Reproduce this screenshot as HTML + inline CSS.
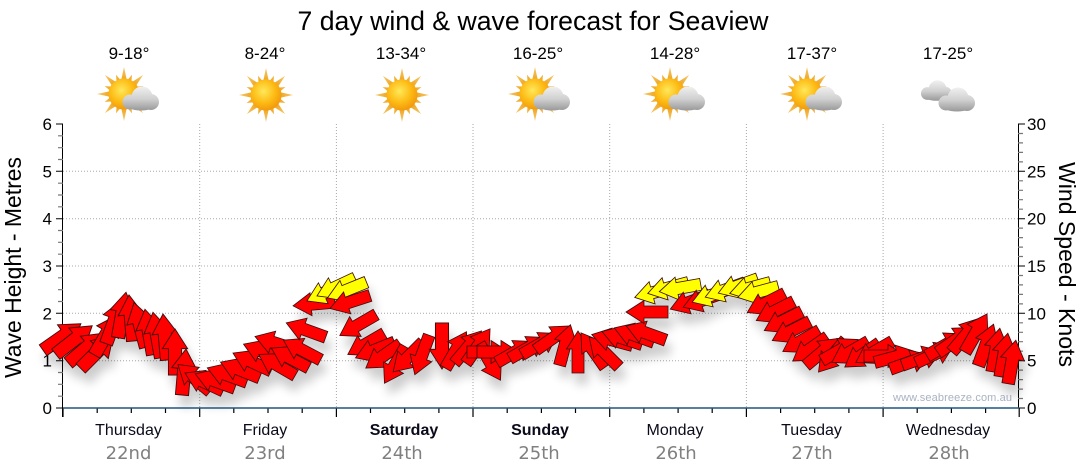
<!DOCTYPE html>
<html><head><meta charset="utf-8"><style>
html,body{margin:0;padding:0;background:#fff;}
svg{display:block;}
</style></head><body>
<svg width="1080" height="475" viewBox="0 0 1080 475" xmlns="http://www.w3.org/2000/svg">
<defs>
<radialGradient id="sg" cx="42%" cy="38%" r="62%"><stop offset="0" stop-color="#ffe85a"/><stop offset="0.6" stop-color="#fdbb14"/><stop offset="1" stop-color="#f29a0e"/></radialGradient>
<linearGradient id="rg" x1="0" y1="-27" x2="0" y2="-12" gradientUnits="userSpaceOnUse"><stop offset="0" stop-color="#f5c86a"/><stop offset="1" stop-color="#eda21a"/></linearGradient>
<linearGradient id="cg" x1="0" y1="-14" x2="0" y2="12" gradientUnits="userSpaceOnUse"><stop offset="0" stop-color="#f4f4f4"/><stop offset="0.55" stop-color="#cfcfcf"/><stop offset="1" stop-color="#969696"/></linearGradient>
<polygon id="rl" points="-3,-13 0,-27 3,-13" fill="url(#rg)"/>
<polygon id="rs" points="-2.5,-13 0,-21 2.5,-13" fill="url(#rg)"/>
<g id="sun">
<use href="#rl"/><use href="#rl" transform="rotate(45)"/><use href="#rl" transform="rotate(90)"/><use href="#rl" transform="rotate(135)"/><use href="#rl" transform="rotate(180)"/><use href="#rl" transform="rotate(225)"/><use href="#rl" transform="rotate(270)"/><use href="#rl" transform="rotate(315)"/>
<use href="#rs" transform="rotate(22.5)"/><use href="#rs" transform="rotate(67.5)"/><use href="#rs" transform="rotate(112.5)"/><use href="#rs" transform="rotate(157.5)"/><use href="#rs" transform="rotate(202.5)"/><use href="#rs" transform="rotate(247.5)"/><use href="#rs" transform="rotate(292.5)"/><use href="#rs" transform="rotate(337.5)"/>
<circle r="15.5" fill="url(#sg)"/>
</g>
<g id="cloud" fill="url(#cg)">
<circle cx="3" cy="-2" r="10.5"/>
<circle cx="-9" cy="3" r="7.5"/>
<circle cx="12" cy="3" r="8"/>
<ellipse cx="2" cy="5" rx="16" ry="6.5"/>
</g>
<polygon id="ar" points="-21,-6 3,-6 3,-11.5 21,0 3,11.5 3,6 -21,6"/>
<filter id="sh" x="-10%" y="-40%" width="120%" height="200%">
<feGaussianBlur in="SourceAlpha" stdDeviation="5"/>
<feOffset dx="4" dy="11" result="b"/>
<feComponentTransfer><feFuncA type="linear" slope="0.2"/></feComponentTransfer>
<feMerge><feMergeNode/><feMergeNode in="SourceGraphic"/></feMerge>
</filter>
</defs>

<!-- Title -->
<text x="533" y="30" font-family="Liberation Sans, sans-serif" font-size="27" text-anchor="middle" textLength="471" lengthAdjust="spacingAndGlyphs" fill="#000">7 day wind &amp; wave forecast for Seaview</text>

<!-- Temps -->
<g font-family="Liberation Sans, sans-serif" font-size="17" text-anchor="middle" fill="#000">
<text x="129" y="59">9-18°</text>
<text x="265" y="59">8-24°</text>
<text x="401" y="59">13-34°</text>
<text x="538" y="59">16-25°</text>
<text x="675" y="59">14-28°</text>
<text x="812" y="59">17-37°</text>
<text x="948" y="59">17-25°</text>
</g>

<!-- Icons -->
<use href="#sun" transform="translate(124,94)"/><use href="#cloud" transform="translate(139,99)"/>
<use href="#sun" transform="translate(266,95)"/>
<use href="#sun" transform="translate(402,95)"/>
<use href="#sun" transform="translate(535,94)"/><use href="#cloud" transform="translate(550,99)"/>
<use href="#sun" transform="translate(670,94)"/><use href="#cloud" transform="translate(685,99)"/>
<use href="#sun" transform="translate(807,94)"/><use href="#cloud" transform="translate(822,99)"/>
<use href="#cloud" transform="translate(935,91) scale(0.85)"/><use href="#cloud" transform="translate(955,100)"/>

<!-- Grid -->
<g stroke="#a8a8a8" stroke-width="1" stroke-dasharray="1 2" fill="none">
<path d="M63 360.7H1019M63 313.3H1019M63 266H1019M63 218.7H1019M63 171.3H1019"/>
<path d="M199.7 124V408M336.4 124V408M473 124V408M609.7 124V408M746.4 124V408M883.1 124V408"/>
</g>

<!-- Axes -->
<path d="M62.5 124V417" stroke="#000" stroke-width="1"/>
<path d="M1018.5 124V408" stroke="#000" stroke-width="1"/>
<path d="M56 408h7M56 360.7h7M56 313.3h7M56 266h7M56 218.7h7M56 171.3h7M56 124h7" stroke="#000" stroke-width="1"/>
<path d="M58 396.2h5M58 384.3h5M58 372.5h5M58 348.8h5M58 337h5M58 325.2h5M58 301.5h5M58 289.7h5M58 277.8h5M58 254.2h5M58 242.3h5M58 230.5h5M58 206.8h5M58 195h5M58 183.2h5M58 159.5h5M58 147.7h5M58 135.8h5" stroke="#777" stroke-width="1.2"/>
<path d="M1018 408h7M1018 360.7h7M1018 313.3h7M1018 266h7M1018 218.7h7M1018 171.3h7M1018 124h7" stroke="#000" stroke-width="1"/>
<path d="M1018 398.5h5M1018 389.1h5M1018 379.6h5M1018 370.1h5M1018 351.2h5M1018 341.7h5M1018 332.3h5M1018 322.8h5M1018 303.9h5M1018 294.4h5M1018 284.9h5M1018 275.5h5M1018 256.5h5M1018 247.1h5M1018 237.6h5M1018 228.1h5M1018 209.2h5M1018 199.7h5M1018 190.3h5M1018 180.8h5M1018 161.9h5M1018 152.4h5M1018 142.9h5M1018 133.5h5" stroke="#777" stroke-width="1.2"/>
<path d="M63 408v9M199.7 408v9M336.4 408v9M473 408v9M609.7 408v9M746.4 408v9M883.1 408v9M1019.2 408v9" stroke="#000" stroke-width="1.2"/>
<path d="M97.2 408v5M131.3 408v5M165.5 408v5M233.8 408v5M268 408v5M302.2 408v5M370.5 408v5M404.7 408v5M438.9 408v5M507.2 408v5M541.4 408v5M575.5 408v5M643.9 408v5M678.1 408v5M712.2 408v5M780.6 408v5M814.7 408v5M848.9 408v5M917.2 408v5M951.4 408v5M985.6 408v5" stroke="#000" stroke-width="1.2"/>

<!-- Axis numbers -->
<g font-family="Liberation Sans, sans-serif" font-size="17" fill="#000">
<g text-anchor="end">
<text x="52" y="414">0</text><text x="52" y="366.7">1</text><text x="52" y="319.3">2</text><text x="52" y="272">3</text><text x="52" y="224.7">4</text><text x="52" y="177.3">5</text><text x="52" y="130">6</text>
</g>
<text x="1027" y="414">0</text><text x="1027" y="366.7">5</text><text x="1027" y="319.3">10</text><text x="1027" y="272">15</text><text x="1027" y="224.7">20</text><text x="1027" y="177.3">25</text><text x="1027" y="130">30</text>
</g>

<!-- Axis titles -->
<text transform="translate(21,267.5) rotate(-90)" font-family="Liberation Sans, sans-serif" font-size="23" text-anchor="middle" textLength="221" lengthAdjust="spacingAndGlyphs" fill="#000">Wave Height - Metres</text>
<text transform="translate(1059,264.5) rotate(90)" font-family="Liberation Sans, sans-serif" font-size="23" text-anchor="middle" textLength="205" lengthAdjust="spacingAndGlyphs" fill="#000">Wind Speed - Knots</text>

<!-- Watermark -->
<text x="893" y="401" font-family="Liberation Sans, sans-serif" font-size="11" fill="#aab2c2" textLength="119" lengthAdjust="spacing">www.seabreeze.com.au</text>

<!-- Arrows -->
<g filter="url(#sh)" stroke="#3a0a0a" stroke-width="0.8" stroke-linejoin="miter">
<g fill="#ff0000">
<use href="#ar" transform="translate(62,337) rotate(-35) scale(1.1)"/>
<use href="#ar" transform="translate(74,340) rotate(-38) scale(1.1)"/>
<use href="#ar" transform="translate(86,348) rotate(-40) scale(1.1)"/>
<use href="#ar" transform="translate(97,352) rotate(-45) scale(1.1)"/>
<use href="#ar" transform="translate(106,335) rotate(-60) scale(1.1)"/>
<use href="#ar" transform="translate(114,322) rotate(-70) scale(1.1)"/>
<use href="#ar" transform="translate(122,315) rotate(-80) scale(1.1)"/>
<use href="#ar" transform="translate(131,318) rotate(-95) scale(1.1)"/>
<use href="#ar" transform="translate(140,325) rotate(-105) scale(1.1)"/>
<use href="#ar" transform="translate(149,332) rotate(-100) scale(1.1)"/>
<use href="#ar" transform="translate(157,335) rotate(-100) scale(1.1)"/>
<use href="#ar" transform="translate(165,337) rotate(-95) scale(1.1)"/>
<use href="#ar" transform="translate(175,352) rotate(-90) scale(1.1)"/>
<use href="#ar" transform="translate(184,372) rotate(-85) scale(1.1)"/>
<use href="#ar" transform="translate(194,378) rotate(-140)"/>
<use href="#ar" transform="translate(204,382) rotate(-155)"/>
<use href="#ar" transform="translate(215,381) rotate(-160)"/>
<use href="#ar" transform="translate(227,375) rotate(-160)"/>
<use href="#ar" transform="translate(240,370) rotate(-158)"/>
<use href="#ar" transform="translate(252,362) rotate(-155)"/>
<use href="#ar" transform="translate(263,352) rotate(-158)"/>
<use href="#ar" transform="translate(275,343) rotate(-162)"/>
<use href="#ar" transform="translate(277,365) rotate(-150)"/>
<use href="#ar" transform="translate(290,358) rotate(-152)"/>
<use href="#ar" transform="translate(302,350) rotate(-152)"/>
<use href="#ar" transform="translate(306,330) rotate(-160)"/>
<use href="#ar" transform="translate(314,304) rotate(175)"/>
</g>
<g fill="#ffff00">
<use href="#ar" transform="translate(326,292) rotate(155)"/>
<use href="#ar" transform="translate(336,287) rotate(155)"/>
<use href="#ar" transform="translate(347,290) rotate(158)"/>
</g>
<g fill="#ff0000">
<use href="#ar" transform="translate(350,302) rotate(162)"/>
<use href="#ar" transform="translate(358,325) rotate(150)"/>
<use href="#ar" transform="translate(366,344) rotate(150)"/>
<use href="#ar" transform="translate(375,350) rotate(158)"/>
<use href="#ar" transform="translate(383,356) rotate(145)"/>
<use href="#ar" transform="translate(395,365) rotate(120)"/>
<use href="#ar" transform="translate(408,357) rotate(135)"/>
<use href="#ar" transform="translate(422,355) rotate(110)"/>
<use href="#ar" transform="translate(442,346) rotate(90) scale(1.1)"/>
<use href="#ar" transform="translate(456,350) rotate(-60)"/>
<use href="#ar" transform="translate(468,347) rotate(-50)"/>
<use href="#ar" transform="translate(478,346) rotate(-55)"/>
<use href="#ar" transform="translate(490,362) rotate(60)"/>
<use href="#ar" transform="translate(488,352) rotate(0)"/>
<use href="#ar" transform="translate(498,352) rotate(0)"/>
<use href="#ar" transform="translate(515,352) rotate(-30)"/>
<use href="#ar" transform="translate(528,348) rotate(-30)"/>
<use href="#ar" transform="translate(540,344) rotate(-30)"/>
<use href="#ar" transform="translate(553,338) rotate(-35)"/>
<use href="#ar" transform="translate(565,345) rotate(-75)"/>
<use href="#ar" transform="translate(578,352) rotate(-90)"/>
<use href="#ar" transform="translate(593,350) rotate(-125)"/>
<use href="#ar" transform="translate(604,352) rotate(-135)"/>
<use href="#ar" transform="translate(612,340) rotate(-165)"/>
<use href="#ar" transform="translate(622,338) rotate(-162)"/>
<use href="#ar" transform="translate(634,335) rotate(-160)"/>
<use href="#ar" transform="translate(646,333) rotate(-160)"/>
<use href="#ar" transform="translate(647,312) rotate(180)"/>
</g>
<g fill="#ffff00">
<use href="#ar" transform="translate(655,292) rotate(165)"/>
<use href="#ar" transform="translate(668,288) rotate(165)"/>
<use href="#ar" transform="translate(680,288) rotate(170)"/>
</g>
<g fill="#ff0000">
<use href="#ar" transform="translate(690,302) rotate(160)"/>
<use href="#ar" transform="translate(703,300) rotate(160)"/>
</g>
<g fill="#ffff00">
<use href="#ar" transform="translate(712,295) rotate(160)"/>
<use href="#ar" transform="translate(725,290) rotate(160)"/>
<use href="#ar" transform="translate(738,286) rotate(160)"/>
<use href="#ar" transform="translate(750,288) rotate(165)"/>
<use href="#ar" transform="translate(758,292) rotate(165)"/>
</g>
<g fill="#ff0000">
<use href="#ar" transform="translate(766,303) rotate(153)"/>
<use href="#ar" transform="translate(775,311) rotate(153)"/>
<use href="#ar" transform="translate(783,321) rotate(153)"/>
<use href="#ar" transform="translate(791,331) rotate(153)"/>
<use href="#ar" transform="translate(801,341) rotate(150)"/>
<use href="#ar" transform="translate(810,349) rotate(145)"/>
<use href="#ar" transform="translate(822,352) rotate(-40)"/>
<use href="#ar" transform="translate(832,356) rotate(130)"/>
<use href="#ar" transform="translate(840,350) rotate(-30)"/>
<use href="#ar" transform="translate(850,352) rotate(150)"/>
<use href="#ar" transform="translate(862,355) rotate(145)"/>
<use href="#ar" transform="translate(874,352) rotate(150)"/>
<use href="#ar" transform="translate(885,356) rotate(0)"/>
<use href="#ar" transform="translate(895,357) rotate(-15)"/>
<use href="#ar" transform="translate(910,362) rotate(-20)"/>
<use href="#ar" transform="translate(922,358) rotate(-20)"/>
<use href="#ar" transform="translate(935,354) rotate(-25)"/>
<use href="#ar" transform="translate(946,345) rotate(-30) scale(1.05)"/>
<use href="#ar" transform="translate(956,340) rotate(-35) scale(1.05)"/>
<use href="#ar" transform="translate(966,335) rotate(-50) scale(1.05)"/>
<use href="#ar" transform="translate(976,333) rotate(-60) scale(1.05)"/>
<use href="#ar" transform="translate(986,345) rotate(-70) scale(1.05)"/>
<use href="#ar" transform="translate(996,350) rotate(-80) scale(1.05)"/>
<use href="#ar" transform="translate(1004,355) rotate(-80) scale(1.05)"/>
<use href="#ar" transform="translate(1012,362) rotate(-80) scale(1.05)"/>
</g>
</g>

<!-- Bottom axis line -->
<path d="M63 408H1019" stroke="#1d5684" stroke-width="1.5"/>

<!-- Day labels -->
<g font-family="Liberation Sans, sans-serif" font-size="16" text-anchor="middle" fill="#0a0a1a">
<text x="128.5" y="435">Thursday</text>
<text x="265" y="435">Friday</text>
<text x="404" y="435" font-weight="bold">Saturday</text>
<text x="540" y="435" font-weight="bold">Sunday</text>
<text x="675" y="435">Monday</text>
<text x="811.5" y="435">Tuesday</text>
<text x="948" y="435">Wednesday</text>
</g>
<g font-family="DejaVu Sans, Liberation Sans, sans-serif" font-size="18" text-anchor="middle" fill="#808080">
<text x="128.5" y="459">22nd</text>
<text x="265" y="459">23rd</text>
<text x="402" y="459">24th</text>
<text x="539" y="459">25th</text>
<text x="676" y="459">26th</text>
<text x="812" y="459">27th</text>
<text x="949" y="459">28th</text>
</g>
</svg>
</body></html>
